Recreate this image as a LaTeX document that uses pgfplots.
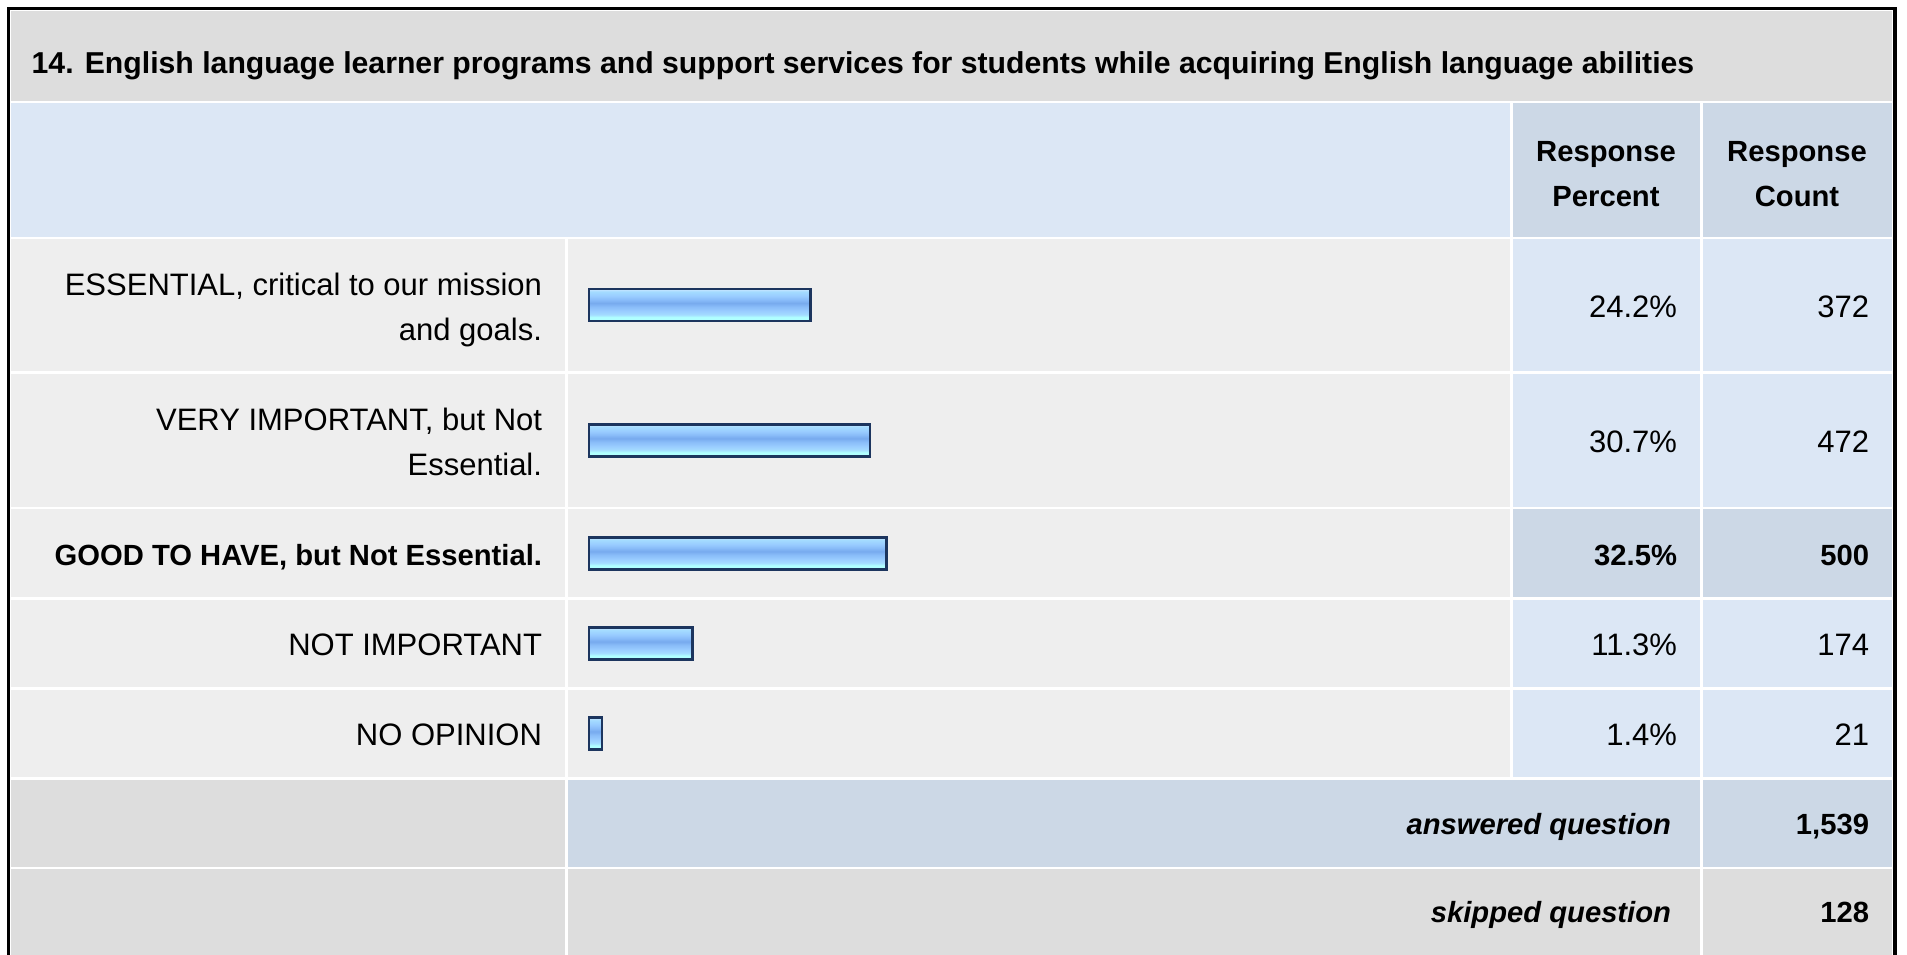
\documentclass[border=0pt]{standalone}
\usepackage{pgfplots}
\pgfplotsset{compat=1.18}
\usepackage{fontspec}
\setmainfont{Liberation Sans}
\definecolor{titlegray}{HTML}{DDDDDD}
\definecolor{hdrblue}{HTML}{DCE7F5}
\definecolor{darkblue}{HTML}{CCD8E6}
\definecolor{rowgray}{HTML}{EEEEEE}
\definecolor{barborder}{HTML}{1C355E}
\definecolor{bcyan}{HTML}{B0FFFF}
\definecolor{blight}{HTML}{A4DCFF}
\definecolor{bmid}{HTML}{99CCFF}
\definecolor{bmid2}{HTML}{88BBF8}
\definecolor{bdark}{HTML}{77AAEE}
\definecolor{btop}{HTML}{CCE6FF}
\pgfdeclareverticalshading{barshade}{100bp}{color(0bp)=(bcyan); color(25bp)=(bcyan); color(31bp)=(bcyan); color(35bp)=(blight); color(41bp)=(bmid); color(48bp)=(bmid2); color(53bp)=(bdark); color(58bp)=(bmid2); color(64bp)=(bmid); color(71bp)=(blight); color(75bp)=(btop); color(100bp)=(btop)}
\newcommand{\cell}[5]{\fill[#1] (#2pt,-#3pt) rectangle (#4pt,-#5pt);}
\newcommand{\txt}[4]{\node[anchor=base #1, inner sep=0pt, outer sep=0pt] at (#2pt,-#3pt) {#4};}
\newcommand{\reg}{\fontsize{31}{45}\selectfont}
\newcommand{\bld}{\fontsize{29.2}{45}\selectfont\bfseries}
\pgfplotsset{mybar/.style={xbar, bar shift=0pt, draw=barborder, line width=2.5pt, shade, shading=barshade}}
\begin{document}
\begin{tikzpicture}
\useasboundingbox (0pt,0pt) rectangle (1907pt,-954pt);
\clip (0pt,0pt) rectangle (1907pt,-954pt);
\fill[white] (0pt,0pt) rectangle (1907pt,-954pt);
% title and header
\cell{titlegray}{11}{11}{1892}{100.5}
\cell{hdrblue}{11}{103}{1510}{236.5}
\cell{darkblue}{1512.5}{103}{1700}{236.5}
\cell{darkblue}{1702.5}{103}{1892}{236.5}
% data rows
\foreach \ya/\yb/\pc in {239/371.25/hdrblue, 373.75/506.75/hdrblue, 509.25/597.25/darkblue, 599.75/687.25/hdrblue, 689.75/777.25/hdrblue}{
  \fill[rowgray] (11pt,-\ya pt) rectangle (565pt,-\yb pt);
  \fill[rowgray] (567.5pt,-\ya pt) rectangle (1510pt,-\yb pt);
  \fill[\pc] (1512.5pt,-\ya pt) rectangle (1700pt,-\yb pt);
  \fill[\pc] (1702.5pt,-\ya pt) rectangle (1892pt,-\yb pt);
}
% summary rows
\cell{titlegray}{11}{779.75}{565}{866.75}
\cell{darkblue}{567.5}{779.75}{1700}{866.75}
\cell{darkblue}{1702.5}{779.75}{1892}{866.75}
\cell{titlegray}{11}{869.25}{565}{960}
\cell{titlegray}{567.5}{869.25}{1700}{960}
\cell{titlegray}{1702.5}{869.25}{1892}{960}
% outer border
\draw[black, line width=3.5pt] (8.3pt,-970pt) -- (8.3pt,-8.6pt) -- (1895pt,-8.6pt) -- (1895pt,-970pt);
% bars
\begin{axis}[at={(0pt,0pt)}, anchor=north west, scale only axis,
  width=1907pt, height=954pt, hide axis, enlargelimits=false,
  xmin=-64.372, xmax=144.044, ymin=0, ymax=954, y dir=reverse,
  xbar, bar width=32, clip=false]
\addplot[mybar] coordinates {(24.2,305)};
\addplot[mybar] coordinates {(30.7,440.25)};
\addplot[mybar] coordinates {(32.5,553.25)};
\addplot[mybar] coordinates {(11.3,643.5)};
\addplot[mybar] coordinates {(1.4,733.5)};
\end{axis}
% texts
\txt{west}{31.7}{73}{\fontsize{30.2}{45}\selectfont\bfseries 14. English language learner programs and support services for students while acquiring English language abilities}
\txt{}{1606}{161}{\bld Response}
\txt{}{1606}{206}{\bld Percent}
\txt{}{1797}{161}{\bld Response}
\txt{}{1797}{206}{\bld Count}
% labels
\txt{east}{542}{295}{\reg ESSENTIAL, critical to our mission}
\txt{east}{542}{340}{\reg and goals.}
\txt{east}{542}{430.25}{\reg VERY IMPORTANT, but Not}
\txt{east}{542}{475.25}{\reg Essential.}
\txt{east}{542}{565.25}{\bld GOOD TO HAVE, but Not Essential.}
\txt{east}{542}{655.5}{\reg NOT IMPORTANT}
\txt{east}{542}{745.5}{\reg NO OPINION}
% percent and count
\txt{east}{1677}{317}{\reg 24.2\%}
\txt{east}{1869}{317}{\reg 372}
\txt{east}{1677}{452.25}{\reg 30.7\%}
\txt{east}{1869}{452.25}{\reg 472}
\txt{east}{1677}{565.25}{\bld 32.5\%}
\txt{east}{1869}{565.25}{\bld 500}
\txt{east}{1677}{655.5}{\reg 11.3\%}
\txt{east}{1869}{655.5}{\reg 174}
\txt{east}{1677}{745.5}{\reg 1.4\%}
\txt{east}{1869}{745.5}{\reg 21}
% summary
\txt{east}{1671}{834}{\bld\itshape answered question}
\txt{east}{1869}{834}{\bld 1,539}
\txt{east}{1671}{922}{\bld\itshape skipped question}
\txt{east}{1869}{922}{\bld 128}
\end{tikzpicture}
\end{document}
